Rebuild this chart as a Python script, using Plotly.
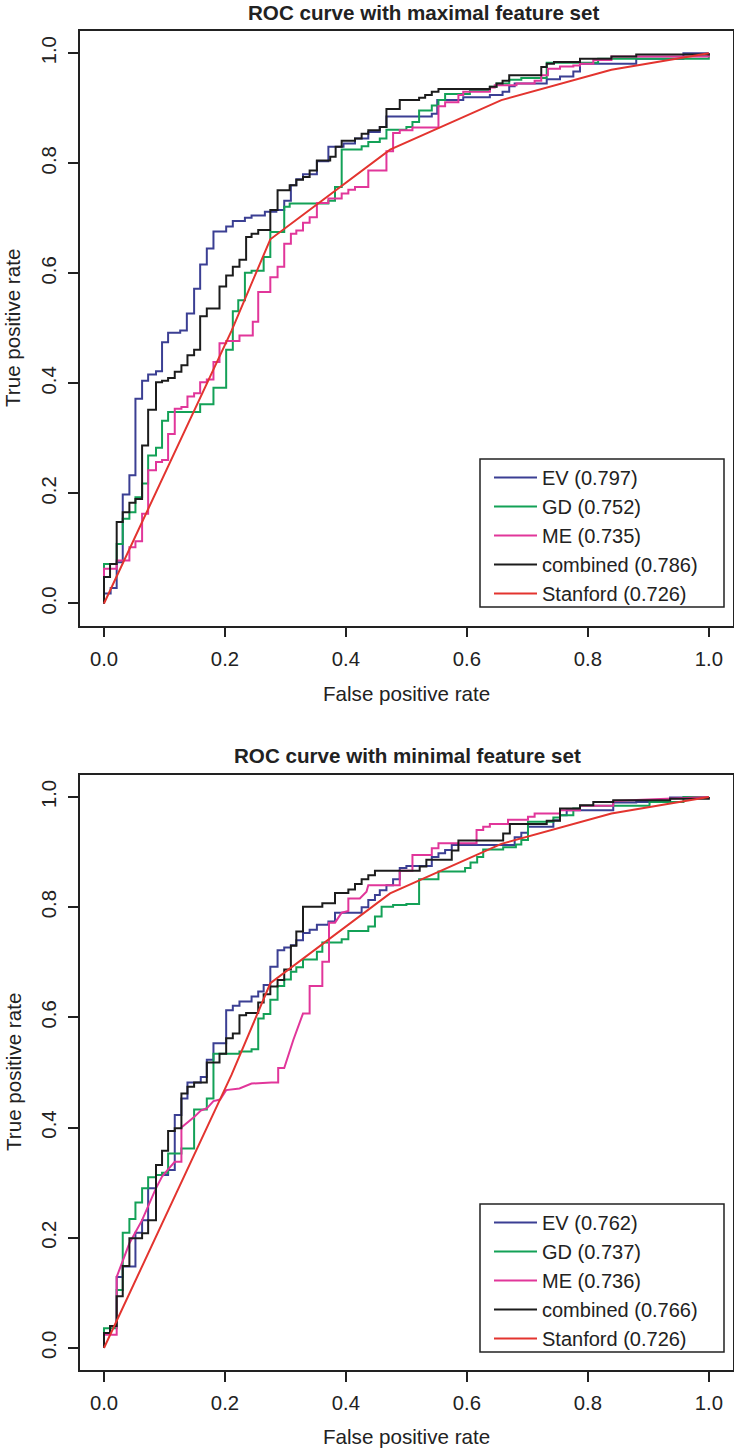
import plotly.graph_objects as go

# ---------------- data ----------------
tick_vals = [0.0, 0.2, 0.4, 0.6, 0.8, 1.0]
tick_text = ["0.0", "0.2", "0.4", "0.6", "0.8", "1.0"]

titles = ["ROC curve with maximal feature set", "ROC curve with minimal feature set"]
series_names = ["EV", "GD", "ME", "combined", "Stanford"]
auc_max = [0.797, 0.752, 0.735, 0.786, 0.726]
auc_min = [0.762, 0.737, 0.736, 0.766, 0.726]

# maximal feature set (step curves: corner points, horizontal then vertical)
ev_max_fpr = [0, 0, 0.011, 0.021, 0.031, 0.042, 0.052, 0.063, 0.073, 0.086,
              0.096, 0.106, 0.126, 0.137, 0.149, 0.159, 0.170, 0.181, 0.202, 0.213,
              0.233, 0.244, 0.266, 0.285, 0.298, 0.309, 0.318, 0.329, 0.352, 0.371,
              0.396, 0.415, 0.437, 0.456, 0.467, 0.542, 0.551, 0.594, 0.638, 0.659,
              0.670, 0.679, 0.732, 0.754, 0.776, 0.787, 0.880, 0.958, 1.0]
ev_max_tpr = [0, 0.018, 0.028, 0.075, 0.198, 0.233, 0.372, 0.405, 0.416, 0.422,
              0.475, 0.492, 0.496, 0.527, 0.572, 0.616, 0.645, 0.676, 0.685, 0.695,
              0.701, 0.705, 0.712, 0.715, 0.732, 0.760, 0.771, 0.780, 0.804, 0.830,
              0.836, 0.845, 0.857, 0.866, 0.885, 0.890, 0.915, 0.920, 0.924, 0.930,
              0.940, 0.945, 0.953, 0.958, 0.967, 0.981, 0.990, 1.0, 1.0]

gd_max_fpr = [0, 0, 0.021, 0.031, 0.042, 0.052, 0.063, 0.073, 0.086, 0.096,
              0.106, 0.159, 0.181, 0.202, 0.213, 0.222, 0.233, 0.244, 0.264, 0.275,
              0.298, 0.307, 0.371, 0.382, 0.393, 0.426, 0.437, 0.456, 0.467, 0.500,
              0.510, 0.521, 0.542, 0.553, 0.564, 0.605, 0.638, 0.649, 0.670, 0.690,
              0.732, 0.817, 1.0]
gd_max_tpr = [0, 0.072, 0.108, 0.154, 0.166, 0.193, 0.218, 0.269, 0.283, 0.332,
              0.348, 0.362, 0.392, 0.461, 0.531, 0.551, 0.601, 0.605, 0.630, 0.675,
              0.721, 0.727, 0.732, 0.757, 0.825, 0.831, 0.839, 0.845, 0.861, 0.866,
              0.875, 0.896, 0.905, 0.915, 0.926, 0.933, 0.939, 0.945, 0.952, 0.955,
              0.983, 0.990, 1.0]

me_max_fpr = [0, 0, 0.021, 0.042, 0.052, 0.063, 0.073, 0.086, 0.096, 0.106,
              0.117, 0.128, 0.138, 0.149, 0.159, 0.170, 0.181, 0.191, 0.202, 0.224,
              0.246, 0.255, 0.275, 0.287, 0.298, 0.309, 0.318, 0.329, 0.340, 0.352,
              0.371, 0.393, 0.404, 0.415, 0.437, 0.467, 0.478, 0.489, 0.510, 0.553,
              0.564, 0.586, 0.594, 0.638, 0.646, 0.682, 0.712, 0.723, 0.734, 0.754,
              0.776, 0.787, 0.809, 0.839, 1.0]
me_max_tpr = [0, 0.063, 0.078, 0.102, 0.113, 0.163, 0.242, 0.257, 0.261, 0.308,
              0.354, 0.357, 0.376, 0.382, 0.402, 0.407, 0.439, 0.473, 0.477, 0.487,
              0.512, 0.566, 0.593, 0.612, 0.654, 0.672, 0.678, 0.692, 0.702, 0.728,
              0.736, 0.745, 0.752, 0.757, 0.787, 0.822, 0.855, 0.860, 0.865, 0.904,
              0.911, 0.924, 0.930, 0.938, 0.942, 0.945, 0.950, 0.960, 0.972, 0.976,
              0.978, 0.981, 0.988, 0.994, 1.0]

cmb_max_fpr = [0, 0, 0.010, 0.021, 0.031, 0.042, 0.052, 0.063, 0.073, 0.086,
               0.096, 0.106, 0.117, 0.128, 0.138, 0.149, 0.159, 0.170, 0.191, 0.202,
               0.213, 0.224, 0.235, 0.244, 0.255, 0.275, 0.287, 0.307, 0.318, 0.329,
               0.340, 0.352, 0.374, 0.383, 0.393, 0.415, 0.426, 0.437, 0.456, 0.467,
               0.489, 0.521, 0.531, 0.542, 0.553, 0.638, 0.649, 0.659, 0.670, 0.723,
               0.732, 0.744, 0.787, 0.839, 0.880, 1.0]
cmb_max_tpr = [0, 0.048, 0.072, 0.148, 0.166, 0.183, 0.190, 0.287, 0.352, 0.402,
               0.405, 0.410, 0.421, 0.433, 0.451, 0.461, 0.522, 0.536, 0.576, 0.596,
               0.612, 0.625, 0.666, 0.672, 0.679, 0.715, 0.751, 0.760, 0.770, 0.775,
               0.787, 0.805, 0.812, 0.830, 0.841, 0.845, 0.854, 0.860, 0.866, 0.899,
               0.915, 0.919, 0.924, 0.930, 0.935, 0.939, 0.945, 0.950, 0.960, 0.975,
               0.981, 0.984, 0.990, 0.994, 0.998, 1.0]

# Stanford curve (piecewise linear, same in both panels)
stan_fpr = [0, 0.211, 0.275, 0.473, 0.657, 0.839, 1.0]
stan_tpr = [0, 0.496, 0.662, 0.825, 0.915, 0.970, 1.0]

# minimal feature set
ev_min_fpr = [0, 0, 0.010, 0.021, 0.031, 0.052, 0.063, 0.073, 0.086, 0.106,
              0.117, 0.128, 0.138, 0.160, 0.170, 0.181, 0.202, 0.213, 0.224, 0.244,
              0.255, 0.264, 0.275, 0.287, 0.298, 0.309, 0.318, 0.329, 0.340, 0.352,
              0.371, 0.382, 0.426, 0.437, 0.448, 0.456, 0.467, 0.478, 0.489, 0.500,
              0.542, 0.553, 0.564, 0.575, 0.679, 0.690, 0.701, 0.743, 0.754, 0.765,
              0.842, 0.880, 0.936, 1.0]
ev_min_tpr = [0, 0.027, 0.039, 0.129, 0.148, 0.209, 0.232, 0.290, 0.314, 0.323,
              0.423, 0.453, 0.482, 0.492, 0.523, 0.553, 0.613, 0.621, 0.629, 0.638,
              0.647, 0.659, 0.692, 0.722, 0.727, 0.731, 0.740, 0.753, 0.759, 0.768,
              0.774, 0.790, 0.800, 0.813, 0.822, 0.831, 0.840, 0.851, 0.871, 0.875,
              0.891, 0.898, 0.904, 0.913, 0.927, 0.935, 0.946, 0.958, 0.967, 0.976,
              0.990, 0.991, 0.999, 1.0]

gd_min_fpr = [0, 0, 0.021, 0.031, 0.042, 0.052, 0.063, 0.073, 0.086, 0.096,
              0.106, 0.128, 0.149, 0.170, 0.181, 0.224, 0.244, 0.255, 0.264, 0.275,
              0.287, 0.298, 0.309, 0.318, 0.329, 0.352, 0.361, 0.393, 0.404, 0.437,
              0.448, 0.459, 0.478, 0.500, 0.521, 0.553, 0.597, 0.606, 0.617, 0.627,
              0.660, 0.681, 0.690, 0.701, 0.743, 0.754, 0.776, 0.787, 0.902, 0.958,
              1.0]
gd_min_tpr = [0, 0.036, 0.105, 0.209, 0.234, 0.264, 0.290, 0.310, 0.314, 0.318,
              0.353, 0.362, 0.433, 0.453, 0.534, 0.538, 0.542, 0.598, 0.606, 0.632,
              0.657, 0.669, 0.683, 0.691, 0.705, 0.719, 0.736, 0.742, 0.757, 0.765,
              0.783, 0.801, 0.804, 0.806, 0.851, 0.865, 0.871, 0.881, 0.891, 0.905,
              0.909, 0.914, 0.922, 0.955, 0.963, 0.967, 0.979, 0.984, 0.991, 1.0,
              1.0]

# ME (minimal) has sloped tie segments: plain vertices
me_min_fpr = [0, 0, 0.021, 0.021, 0.042, 0.063, 0.086, 0.096, 0.106, 0.117,
              0.128, 0.128, 0.149, 0.160, 0.170, 0.181, 0.192, 0.202, 0.224, 0.244,
              0.277, 0.288, 0.288, 0.298, 0.313, 0.329, 0.340, 0.340, 0.361, 0.361,
              0.372, 0.372, 0.382, 0.393, 0.404, 0.404, 0.423, 0.434, 0.437, 0.489,
              0.489, 0.510, 0.510, 0.542, 0.542, 0.553, 0.553, 0.616, 0.616, 0.627,
              0.627, 0.638, 0.638, 0.668, 0.668, 0.701, 0.701, 0.712, 0.712, 0.754,
              0.754, 0.787, 0.787, 0.842, 0.842, 0.979, 1.0]
me_min_tpr = [0, 0.024, 0.024, 0.129, 0.190, 0.232, 0.290, 0.311, 0.324, 0.338,
              0.338, 0.400, 0.419, 0.431, 0.435, 0.448, 0.451, 0.468, 0.471, 0.480,
              0.482, 0.482, 0.508, 0.508, 0.559, 0.607, 0.607, 0.657, 0.657, 0.701,
              0.701, 0.772, 0.772, 0.790, 0.793, 0.816, 0.816, 0.828, 0.840, 0.840,
              0.866, 0.866, 0.895, 0.895, 0.907, 0.907, 0.916, 0.916, 0.940, 0.940,
              0.946, 0.946, 0.951, 0.951, 0.959, 0.959, 0.964, 0.964, 0.970, 0.970,
              0.976, 0.976, 0.984, 0.984, 0.993, 0.999, 1.0]

cmb_min_fpr = [0, 0, 0.010, 0.021, 0.031, 0.042, 0.063, 0.073, 0.086, 0.096,
               0.106, 0.117, 0.128, 0.138, 0.149, 0.170, 0.191, 0.202, 0.213, 0.224,
               0.235, 0.255, 0.264, 0.275, 0.287, 0.298, 0.309, 0.318, 0.329, 0.361,
               0.382, 0.404, 0.415, 0.426, 0.437, 0.448, 0.522, 0.533, 0.575, 0.586,
               0.660, 0.671, 0.732, 0.754, 0.787, 0.809, 0.842, 0.936, 1.0]
cmb_min_tpr = [0, 0.027, 0.040, 0.094, 0.149, 0.199, 0.208, 0.232, 0.332, 0.358,
               0.394, 0.399, 0.462, 0.474, 0.482, 0.518, 0.534, 0.562, 0.571, 0.604,
               0.608, 0.627, 0.642, 0.656, 0.668, 0.687, 0.730, 0.756, 0.801, 0.807,
               0.826, 0.832, 0.842, 0.851, 0.858, 0.866, 0.874, 0.886, 0.903, 0.921,
               0.934, 0.951, 0.957, 0.979, 0.985, 0.991, 0.994, 0.997, 1.0]

# ---------------- styling ----------------
colors = {"EV": "#3B3F93", "GD": "#13A157", "ME": "#E1369A",
          "combined": "#1C1C1C", "Stanford": "#E3342F"}
FONT = "Liberation Sans, Arial, Helvetica, sans-serif"
INK = "#222222"
W, H = 734, 1448

# pixel geometry of the two plotting boxes
box_left, box_right = 79.8, 733.0
panels = [dict(top=31.3, bottom=625.5), dict(top=775.0, bottom=1370.0)]
legend_boxes = [dict(x0=480, x1=724, y0=459, y1=607),
                dict(x0=480, x1=724, y0=1204, y1=1352)]

fig = go.Figure()

panel_data = [
    [(ev_max_fpr, ev_max_tpr, "hv"), (gd_max_fpr, gd_max_tpr, "hv"),
     (me_max_fpr, me_max_tpr, "hv"), (cmb_max_fpr, cmb_max_tpr, "hv"),
     (stan_fpr, stan_tpr, "linear")],
    [(ev_min_fpr, ev_min_tpr, "hv"), (gd_min_fpr, gd_min_tpr, "hv"),
     (me_min_fpr, me_min_tpr, "linear"), (cmb_min_fpr, cmb_min_tpr, "hv"),
     (stan_fpr, stan_tpr, "linear")],
]
aucs = [auc_max, auc_min]

for p, series in enumerate(panel_data):
    xa = "x" if p == 0 else "x2"
    ya = "y" if p == 0 else "y2"
    leg = "legend" if p == 0 else "legend2"
    for name, (fx, fy, shape), auc in zip(series_names, series, aucs[p]):
        fig.add_trace(go.Scatter(
            x=fx, y=fy, mode="lines", xaxis=xa, yaxis=ya,
            line=dict(color=colors[name], width=2, shape=shape),
            name=f"{name} ({auc:.3f})", legend=leg, hoverinfo="skip"))

axis_common = dict(
    range=[-0.04, 1.04], tickmode="array", tickvals=tick_vals, ticktext=tick_text,
    ticks="outside", ticklen=10, tickwidth=1.5, tickcolor=INK,
    showline=True, mirror=True, linecolor=INK, linewidth=1.5,
    showgrid=False, zeroline=False, fixedrange=True,
    tickfont=dict(family=FONT, size=20.3, color=INK),
)

layout = dict(
    width=W, height=H, autosize=False,
    margin=dict(l=0, r=0, t=0, b=0),
    paper_bgcolor="white", plot_bgcolor="white",
    font=dict(family=FONT, size=20, color=INK),
)

xdom = [box_left / W, box_right / W]
for p, pan in enumerate(panels):
    ydom = [1 - pan["bottom"] / H, 1 - pan["top"] / H]
    sx = "" if p == 0 else "2"
    layout["xaxis" + sx] = dict(axis_common, domain=xdom, anchor="y" + sx,
                                ticklabelstandoff=4)
    layout["yaxis" + sx] = dict(axis_common, domain=ydom, anchor="x" + sx,
                                tickangle=-90, ticklabelstandoff=4)

legend_common = dict(
    xanchor="left", yanchor="top", bgcolor="rgba(0,0,0,0)", borderwidth=0,
    font=dict(family=FONT, size=20, color=INK), itemwidth=43, tracegroupgap=0,
    itemclick=False, itemdoubleclick=False,
)
layout["legend"] = dict(legend_common, x=489 / W, y=1 - (legend_boxes[0]["y0"] - 1) / H)
layout["legend2"] = dict(legend_common, x=489 / W, y=1 - (legend_boxes[1]["y0"] - 1) / H)

# legend frames (white boxes with a dark border, above the curves)
shapes = []
for lb in legend_boxes:
    shapes.append(dict(type="rect", xref="paper", yref="paper", layer="above",
                       x0=lb["x0"] / W, x1=lb["x1"] / W,
                       y0=1 - lb["y1"] / H, y1=1 - lb["y0"] / H,
                       line=dict(color=INK, width=1.5), fillcolor="white"))
layout["shapes"] = shapes

ann = []
title_pos = [(424, 13), (407, 755)]
xlabel_y = [693, 1436]
ylabel_y = [328, 1072]
for p in range(2):
    tx, ty = title_pos[p]
    ann.append(dict(text=f"<b>{titles[p]}</b>", x=tx / W, y=1 - ty / H,
                    xref="paper", yref="paper", xanchor="center", yanchor="middle",
                    showarrow=False, font=dict(family=FONT, size=20.6, color=INK)))
    ann.append(dict(text="False positive rate", x=406.5 / W, y=1 - xlabel_y[p] / H,
                    xref="paper", yref="paper", xanchor="center", yanchor="middle",
                    showarrow=False, font=dict(family=FONT, size=20.6, color=INK)))
    ann.append(dict(text="True positive rate", x=13 / W, y=1 - ylabel_y[p] / H,
                    xref="paper", yref="paper", xanchor="center", yanchor="middle",
                    textangle=-90, showarrow=False,
                    font=dict(family=FONT, size=20.6, color=INK)))
layout["annotations"] = ann

fig.update_layout(**layout)
fig.write_html("out.html", config={"displayModeBar": False},
               post_script="document.body.style.margin='0px';"
                           "document.body.style.overflow='hidden';")
